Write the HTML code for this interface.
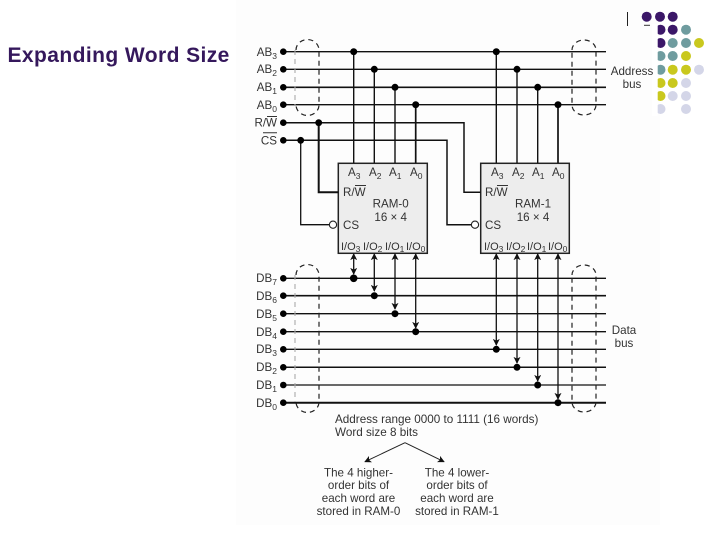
<!DOCTYPE html>
<html><head><meta charset="utf-8"><style>
html,body{margin:0;padding:0;background:#fff;width:720px;height:540px;overflow:hidden}
svg{display:block}
text{font-family:"Liberation Sans",sans-serif;fill:#333}
.l{font-size:11.6px}
.s{font-size:8.5px}
.m{font-size:11px}
</style></head><body>
<svg width="720" height="540" viewBox="0 0 720 540" xmlns="http://www.w3.org/2000/svg">
<defs>
<marker id="a" viewBox="0 0 8 8" refX="7" refY="4" markerWidth="7" markerHeight="7" markerUnits="userSpaceOnUse" orient="auto-start-reverse"><path d="M0 0L8 4L0 8L2 4Z" fill="#111"/></marker>
</defs>
<rect x="236" y="0" width="424" height="525" fill="#fdfdfd"/>
<text x="7.5" y="62" font-size="21" font-weight="bold" style="fill:#35185c;letter-spacing:.42px">Expanding Word Size</text>

<!-- palette dots -->
<g>
<g fill="#3b1768"><circle cx="646.7" cy="16.7" r="5"/><circle cx="660" cy="16.7" r="5"/><circle cx="672.7" cy="16.7" r="5"/><circle cx="660.5" cy="29.7" r="5"/><circle cx="672.7" cy="29.7" r="5"/><circle cx="660.5" cy="43" r="5"/></g>
<g fill="#6f9c9f"><circle cx="686" cy="29.7" r="5"/><circle cx="672.7" cy="43" r="5"/><circle cx="686" cy="43" r="5"/><circle cx="660.5" cy="56" r="5"/><circle cx="672.7" cy="56" r="5"/><circle cx="660.5" cy="69.7" r="5"/></g>
<g fill="#c9c81e"><circle cx="699" cy="43" r="5"/><circle cx="686" cy="56" r="5"/><circle cx="672.7" cy="69.7" r="5"/><circle cx="686" cy="69.7" r="5"/><circle cx="660.5" cy="83" r="5"/><circle cx="672.7" cy="83" r="5"/><circle cx="660.5" cy="96" r="5"/></g>
<g fill="#d4d6e8"><circle cx="699" cy="69.7" r="5"/><circle cx="686" cy="83" r="5"/><circle cx="672.7" cy="96" r="5"/><circle cx="686" cy="96" r="5"/><circle cx="660.5" cy="109" r="5"/><circle cx="686" cy="109" r="5"/></g>
<rect x="652" y="24" width="5.7" height="92" fill="#fff"/>
</g>
<path d="M627.5 12V26" stroke="#222" stroke-width="1"/>
<path d="M644 25.3H650" stroke="#333" stroke-width="1"/>

<!-- boxes -->
<g fill="#ededed" stroke="#222" stroke-width="1.5">
<rect x="338.3" y="163.3" width="89" height="90"/>
<rect x="480.7" y="163.3" width="88.6" height="90"/>
</g>

<!-- address bus -->
<g stroke="#111" fill="none">
<path d="M283 51.7H606M283 69.3H606" stroke-width="1.3"/>
<path d="M283 87.3H606" stroke-width="1.6"/>
<path d="M283 104.7H606" stroke-width="1.3"/>
<path d="M283 122.7H464V192.3H480.7" stroke-width="1.5"/>
<path d="M283 140.3H447V224.7H471" stroke-width="1.5"/>
<path d="M318.7 122.7V192.3H338.3" stroke-width="2"/>
<path d="M300.7 140.3V224.7H329" stroke-width="1.3"/>
<path d="M353.7 51.7V163M374.3 69.3V163M395 87.3V163" stroke-width="1.4"/>
<path d="M415.7 104.7V163" stroke-width="1.7"/>
<path d="M496.3 51.7V163M517 69.3V163M537.7 87.3V163" stroke-width="1.4"/>
<path d="M558 104.7V163" stroke-width="1.7"/>
</g>
<circle cx="333" cy="224.7" r="3.6" fill="#fff" stroke="#222" stroke-width="1.1"/>
<circle cx="475" cy="224.7" r="3.6" fill="#fff" stroke="#222" stroke-width="1.1"/>

<!-- data bus -->
<g stroke="#111" fill="none">
<path d="M283 278.3H606" stroke-width="1.3"/>
<path d="M283 295.7H606" stroke-width="1.7"/>
<path d="M283 313.7H606" stroke-width="1.3"/>
<path d="M283 331.7H606" stroke-width="1.4"/>
<path d="M283 349.3H606" stroke-width="1.3"/>
<path d="M283 367.3H606" stroke-width="1.5"/>
<path d="M283 385H606" stroke-width="1.3"/>
<path d="M283 402.7H606" stroke-width="2"/>
<g stroke-width="1.3">
<path d="M353.7 254V274" marker-start="url(#a)" marker-end="url(#a)"/>
<path d="M374.3 254V291" marker-start="url(#a)" marker-end="url(#a)"/>
<path d="M395 254V309" marker-start="url(#a)" marker-end="url(#a)"/>
<path d="M415.7 254V328" marker-start="url(#a)" marker-end="url(#a)"/>
<path d="M496.3 254V345" marker-start="url(#a)" marker-end="url(#a)"/>
<path d="M517 254V363" marker-start="url(#a)" marker-end="url(#a)"/>
<path d="M537.7 254V381" marker-start="url(#a)" marker-end="url(#a)"/>
<path d="M558 254V399" marker-start="url(#a)" marker-end="url(#a)"/>
</g>
</g>

<!-- dots -->
<g fill="#000">
<circle cx="283.3" cy="51.7" r="3.3"/><circle cx="283.3" cy="69.3" r="3.3"/><circle cx="283.3" cy="87.3" r="3.3"/><circle cx="283.3" cy="104.7" r="3.3"/><circle cx="283.3" cy="122.7" r="3.3"/><circle cx="283.3" cy="140.3" r="3.3"/>
<circle cx="353.7" cy="51.7" r="3.5"/><circle cx="374.3" cy="69.3" r="3.5"/><circle cx="395" cy="87.3" r="3.5"/><circle cx="415.7" cy="104.7" r="3.5"/>
<circle cx="496.3" cy="51.7" r="3.5"/><circle cx="517" cy="69.3" r="3.5"/><circle cx="537.7" cy="87.3" r="3.5"/><circle cx="558" cy="104.7" r="3.5"/>
<circle cx="318.7" cy="122.7" r="3.4"/><circle cx="300.7" cy="140.3" r="3.4"/>
<circle cx="283.3" cy="278.3" r="3.3"/><circle cx="283.3" cy="295.7" r="3.3"/><circle cx="283.3" cy="313.7" r="3.3"/><circle cx="283.3" cy="331.7" r="3.3"/><circle cx="283.3" cy="349.3" r="3.3"/><circle cx="283.3" cy="367.3" r="3.3"/><circle cx="283.3" cy="385" r="3.3"/><circle cx="283.3" cy="402.7" r="3.3"/>
<circle cx="353.7" cy="278.3" r="3.8"/><circle cx="374.3" cy="295.7" r="3.5"/><circle cx="395" cy="313.7" r="3.5"/><circle cx="415.7" cy="331.7" r="3.5"/>
<circle cx="496.3" cy="349.3" r="3.5"/><circle cx="517" cy="367.3" r="3.5"/><circle cx="537.7" cy="385" r="3.5"/><circle cx="558" cy="402.7" r="3.5"/>
</g>

<!-- dashed bus groupings -->
<g fill="none" stroke="#222" stroke-width="1.2" stroke-dasharray="5 4">
<path d="M296 50A11 10 0 0 1 319 50V105A11 10 0 0 1 296 105" />
<path d="M572 50A12 10 0 0 1 596 50V105A12 10 0 0 1 572 105Z"/>
<path d="M296 275A11 10 0 0 1 319 275V402A11 10 0 0 1 296 402"/>
<path d="M572 275A12 10 0 0 1 596 275V402A12 10 0 0 1 572 402Z"/>
</g>
<g fill="none" stroke="#aaa" stroke-width="1.1" stroke-dasharray="5 4">
<path d="M295 50V105M295 275V402"/>
</g>

<!-- left labels -->
<g text-anchor="end">
<text x="277" y="56" class="l">AB<tspan class="s" dy="3">3</tspan></text>
<text x="277" y="73" class="l">AB<tspan class="s" dy="3">2</tspan></text>
<text x="277" y="91" class="l">AB<tspan class="s" dy="3">1</tspan></text>
<text x="277" y="109" class="l">AB<tspan class="s" dy="3">0</tspan></text>
<text x="277" y="126.5" class="l">R/W</text>
<text x="277" y="144.5" class="l">CS</text>
<text x="277" y="282" class="l">DB<tspan class="s" dy="3">7</tspan></text>
<text x="277" y="300" class="l">DB<tspan class="s" dy="3">6</tspan></text>
<text x="277" y="318" class="l">DB<tspan class="s" dy="3">5</tspan></text>
<text x="277" y="336" class="l">DB<tspan class="s" dy="3">4</tspan></text>
<text x="277" y="353" class="l">DB<tspan class="s" dy="3">3</tspan></text>
<text x="277" y="371" class="l">DB<tspan class="s" dy="3">2</tspan></text>
<text x="277" y="389" class="l">DB<tspan class="s" dy="3">1</tspan></text>
<text x="277" y="407" class="l">DB<tspan class="s" dy="3">0</tspan></text>
</g>
<path d="M267 116.5H277M263 132.7H277" stroke="#333" stroke-width="1"/>

<!-- RAM-0 text -->
<text x="348" y="176" class="l">A<tspan class="s" dy="3">3</tspan></text>
<text x="369" y="176" class="l">A<tspan class="s" dy="3">2</tspan></text>
<text x="389" y="176" class="l">A<tspan class="s" dy="3">1</tspan></text>
<text x="410" y="176" class="l">A<tspan class="s" dy="3">0</tspan></text>
<text x="343" y="196" class="l">R/W</text>
<path d="M355 185.5H366" stroke="#333" stroke-width="1"/>
<text x="390.7" y="207.5" class="l" text-anchor="middle">RAM-0</text>
<text x="390.7" y="221" class="l" text-anchor="middle">16 × 4</text>
<text x="343" y="229" class="l">CS</text>
<text x="341" y="250" class="m">I/O<tspan class="s" dy="2">3</tspan></text>
<text x="363" y="250" class="m">I/O<tspan class="s" dy="2">2</tspan></text>
<text x="385" y="250" class="m">I/O<tspan class="s" dy="2">1</tspan></text>
<text x="406" y="250" class="m">I/O<tspan class="s" dy="2">0</tspan></text>

<!-- RAM-1 text -->
<text x="491" y="176" class="l">A<tspan class="s" dy="3">3</tspan></text>
<text x="512" y="176" class="l">A<tspan class="s" dy="3">2</tspan></text>
<text x="532" y="176" class="l">A<tspan class="s" dy="3">1</tspan></text>
<text x="552" y="176" class="l">A<tspan class="s" dy="3">0</tspan></text>
<text x="485" y="196" class="l">R/W</text>
<path d="M497 185.5H508" stroke="#333" stroke-width="1"/>
<text x="533" y="207.5" class="l" text-anchor="middle">RAM-1</text>
<text x="533" y="221" class="l" text-anchor="middle">16 × 4</text>
<text x="485" y="229" class="l">CS</text>
<text x="484" y="250" class="m">I/O<tspan class="s" dy="2">3</tspan></text>
<text x="506" y="250" class="m">I/O<tspan class="s" dy="2">2</tspan></text>
<text x="527" y="250" class="m">I/O<tspan class="s" dy="2">1</tspan></text>
<text x="548" y="250" class="m">I/O<tspan class="s" dy="2">0</tspan></text>

<!-- side labels -->
<text x="632" y="75" class="l" text-anchor="middle">Address</text>
<text x="632" y="88" class="l" text-anchor="middle">bus</text>
<text x="624" y="334" class="l" text-anchor="middle">Data</text>
<text x="624" y="347" class="l" text-anchor="middle">bus</text>

<!-- bottom -->
<text x="335" y="423" style="font-size:11.7px">Address range 0000 to 1111 (16 words)</text>
<text x="335" y="436" style="font-size:11.7px">Word size 8 bits</text>
<g stroke="#222" stroke-width="1" fill="none">
<path d="M405 442.7L365 461.7" marker-end="url(#a)"/>
<path d="M405 442.7L444 461.7" marker-end="url(#a)"/>
</g>
<g text-anchor="middle">
<text x="358.5" y="476.5" class="l">The 4 higher-</text>
<text x="358.5" y="489" class="l">order bits of</text>
<text x="358.5" y="502" class="l">each word are</text>
<text x="358.5" y="515" class="l">stored in RAM-0</text>
<text x="457" y="476.5" class="l">The 4 lower-</text>
<text x="457" y="489" class="l">order bits of</text>
<text x="457" y="502" class="l">each word are</text>
<text x="457" y="515" class="l">stored in RAM-1</text>
</g>
</svg>
</body></html>
